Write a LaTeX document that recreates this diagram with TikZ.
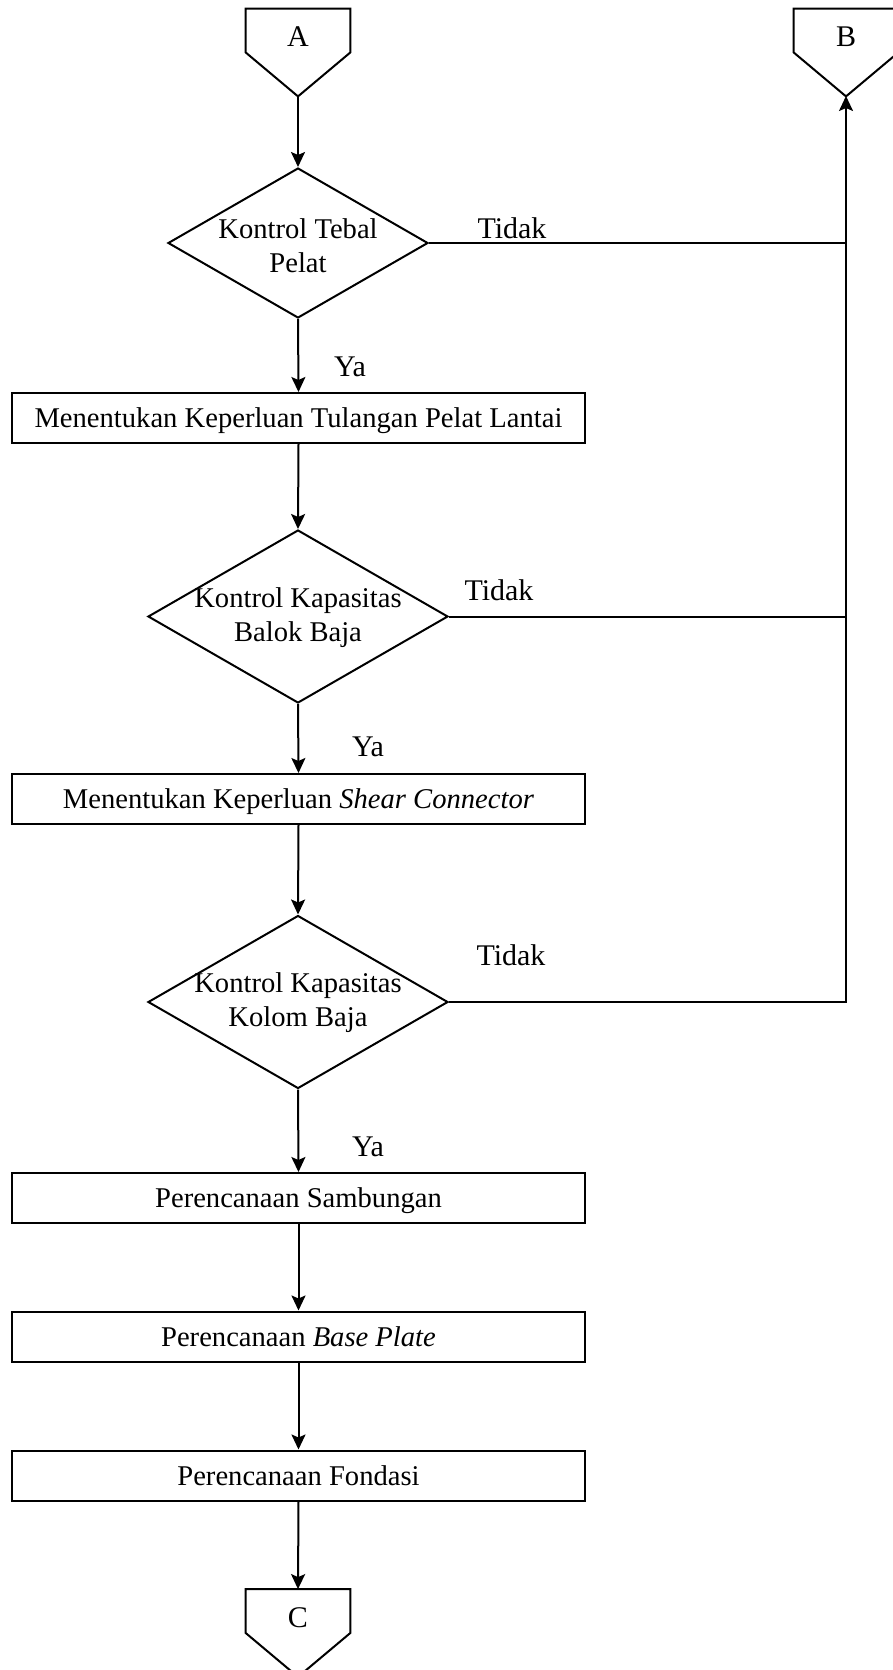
\documentclass[tikz,border=0pt]{standalone}
\usepackage{fontspec}
\setmainfont{Liberation Serif}
\usetikzlibrary{shapes.geometric, arrows.meta, calc}
\def\boxfont{\fontsize{14.3pt}{17pt}\selectfont}
\def\labfont{\fontsize{15pt}{18pt}\selectfont}
\tikzset{
  proc/.style={draw, line width=1pt, minimum width=286.5pt, minimum height=25pt, inner sep=0pt,
    text height=12.8pt, text depth=3pt, font=\boxfont},
  decision/.style={diamond, draw, line width=1pt, inner sep=0pt},
  offpage/.style={minimum width=52pt, minimum height=21.5pt, inner sep=0pt,
    text height=16pt, text depth=0pt, font=\labfont},
  lab/.style={inner sep=0pt, font=\labfont},
  wire/.style={line width=1pt},
  flow/.style={line width=1pt, -{Stealth[length=7.5pt, width=7pt, inset=1.5pt]}},
}
\def\procnode{\node[proc]}
\def\pagenode{\node[offpage]}
\def\labnode{\node[lab]}
\def\drawflow{\draw[flow]}
\def\drawpage#1{\draw[wire] (#1.north west) -- (#1.north east) -- (#1.south east) -- ($(#1.south)+(0,44)$) -- (#1.south west) -- cycle;}

\begin{document}
\begin{tikzpicture}[x=0.5pt, y=-0.5pt]
\useasboundingbox (0,0) rectangle (893,1670);
\pagenode (A) at (298,30.5) {A};
\drawpage{A}
\coordinate (Atip) at (298,96);
\pagenode (B) at (846,30.5) {B};
\drawpage{B}
\coordinate (Btip) at (846,96);

\node[decision, minimum width=130pt, minimum height=75pt] (d1) at (298,243) {};
\node[font=\boxfont, align=center, inner sep=0pt] (d1txt) at (298,246) {Kontrol Tebal\\Pelat};
\procnode (p1) at (298.5,418) {Menentukan Keperluan Tulangan Pelat Lantai};
\node[decision, minimum width=150pt, minimum height=86.5pt] (d2) at (298,616.5) {};
\node[font=\boxfont, align=center, inner sep=0pt] (d2txt) at (298,618) {Kontrol Kapasitas\\Balok Baja};
\procnode (p2) at (298.5,799) {Menentukan Keperluan \textit{Shear Connector}};
\node[decision, minimum width=150pt, minimum height=86.5pt] (d3) at (298,1002) {};
\node[font=\boxfont, align=center, inner sep=0pt] (d3txt) at (298,1003) {Kontrol Kapasitas\\Kolom Baja};
\procnode (p3) at (298.5,1198) {Perencanaan Sambungan};
\procnode (p4) at (298.5,1336.5) {Perencanaan \textit{Base Plate}};
\procnode (p5) at (298.5,1475.5) {Perencanaan Fondasi};
\pagenode (C) at (298,1611) {C};
\drawpage{C}

\labnode (ya1) at (350,367) {Ya};
\labnode (ya2) at (368,747) {Ya};
\labnode (ya3) at (368,1147) {Ya};
\labnode (no1) at (512,228) {Tidak};
\labnode (no2) at (499,590) {Tidak};
\labnode (no3) at (511,955) {Tidak};

\drawflow (Atip) -- (d1.north);
\drawflow (d1.south) -- (p1.north);
\drawflow (p1.south) -- (d2.north);
\drawflow (d2.south) -- (p2.north);
\drawflow (p2.south) -- (d3.north);
\drawflow (d3.south) -- (p3.north);
\drawflow (p3.south) -- (p4.north);
\drawflow (p4.south) -- (p5.north);
\drawflow (p5.south) -- (C.north);
\draw[wire] (d1.east) -- (d1.east -| Btip);
\draw[wire] (d2.east) -- (d2.east -| Btip);
\drawflow (d3.east) -| (Btip);
\end{tikzpicture}
\end{document}
